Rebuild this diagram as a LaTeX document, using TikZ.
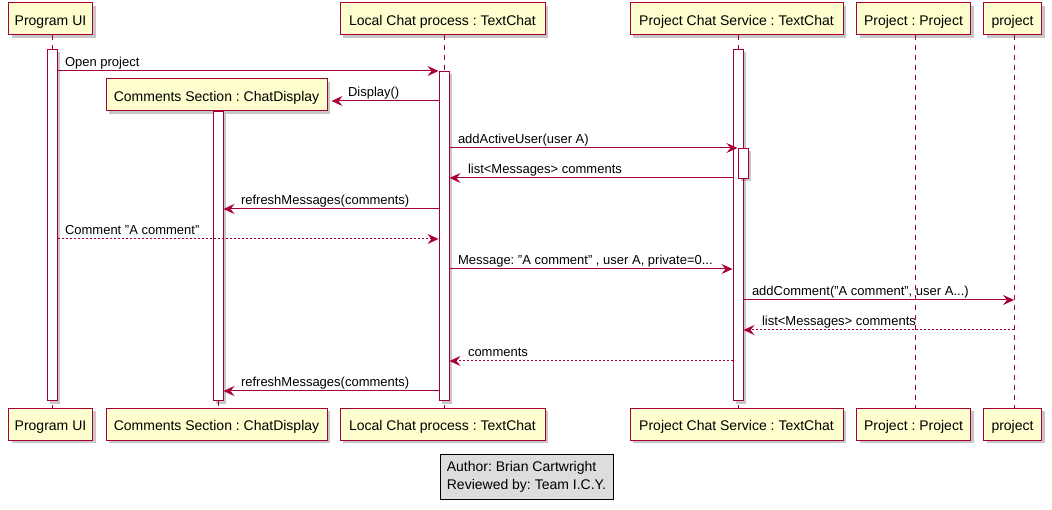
\documentclass[tikz,border=0pt]{standalone}
\usepackage{fontspec}
\setmainfont{Liberation Sans}
\frenchspacing
\usetikzlibrary{arrows.meta,positioning,shadows}
\definecolor{umlred}{HTML}{A80036}
\definecolor{umlyellow}{HTML}{FEFECE}
\definecolor{notegray}{HTML}{DDDDDD}
\newcommand{\partfont}{\fontsize{14pt}{16.5pt}\selectfont}
\newcommand{\notefont}{\fontsize{14pt}{18pt}\selectfont}
\newcommand{\msgfont}{\fontsize{13pt}{15pt}\selectfont}
\tikzset{
  shade/.style={drop shadow={shadow xshift=3pt, shadow yshift=-3pt, fill=black, opacity=.22}},
  part/.style={draw=umlred, fill=umlyellow, line width=1pt, minimum height=32pt, inner sep=0pt, text height=14pt, text depth=1pt, font=\partfont, shade},
  actbar/.style={draw=umlred, fill=white, line width=1pt, minimum width=10pt, inner sep=0pt, anchor=north, shade},
  life/.style={draw=umlred, line width=1pt, dash pattern=on 5pt off 5pt},
  msg/.style={draw=umlred, line width=1pt, -{Stealth[length=11pt, width=10pt, inset=4pt]}},
  ret/.style={msg, dash pattern=on 2pt off 2pt},
  lbl/.style={font=\msgfont, anchor=base west, inner sep=0pt, text=black, yshift=4pt},
  note/.style={draw=black, fill=notegray, line width=1pt, font=\notefont, align=left, minimum width=173pt, minimum height=45pt, inner sep=0pt},
}
\begin{document}
\begin{tikzpicture}[x=1pt, y=-1pt]
  \useasboundingbox (0,0) rectangle (1052,510);
  % participants, top row
  \node[part, minimum width=84pt] (ui) at (50.5,19) {Program UI};
  \node[part, minimum width=221pt] (cs) at (216.5,95) {Comments Section : ChatDisplay};
  \node[part, minimum width=205pt] (lc) at (442.5,19) {Local Chat process : TextChat};
  \node[part, minimum width=213pt] (pcs) at (736.5,19) {Project Chat Service : TextChat};
  \node[part, minimum width=114pt] (pj) at (913.5,19) {Project : Project};
  \node[part, minimum width=58pt] (prj) at (1012.5,19) {project};
  % participants, bottom row
  \node[part, minimum width=84pt] (uiB) at (50.5,424) {Program UI};
  \node[part, minimum width=221pt] (csB) at (216.5,424) {Comments Section : ChatDisplay};
  \node[part, minimum width=205pt] (lcB) at (442.5,424) {Local Chat process : TextChat};
  \node[part, minimum width=213pt] (pcsB) at (736.5,424) {Project Chat Service : TextChat};
  \node[part, minimum width=114pt] (pjB) at (913.5,424) {Project : Project};
  \node[part, minimum width=58pt] (prjB) at (1012.5,424) {project};
  % lifelines
  \coordinate (prjL) at ([xshift=1.5pt]prj.south);
  \coordinate (csEdge) at ([xshift=4pt]cs.east);
  \draw[life] ([xshift=1.5pt]ui.south) -- ([xshift=1.5pt]uiB.north);
  \draw[life] ([xshift=1.5pt]cs.south) -- ([xshift=1.5pt]csB.north);
  \draw[life] ([xshift=1.5pt]lc.south) -- ([xshift=1.5pt]lcB.north);
  \draw[life] ([xshift=1.5pt]pcs.south) -- ([xshift=1.5pt]pcsB.north);
  \draw[life] ([xshift=1.5pt]pj.south) -- ([xshift=1.5pt]pjB.north);
  \draw[life] (prjL) -- ([xshift=1.5pt]prjB.north);
  % activations
  \node[actbar, minimum height=351pt] (uiAct) at (52,49) {};
  \node[actbar, minimum height=289pt] (csAct) at (218,111) {};
  \node[actbar, minimum height=329pt] (lcAct) at (444,71) {};
  \node[actbar, minimum height=351pt] (pcsAct) at (738,49) {};
  \node[actbar, minimum height=30pt] (pcsAct2) at (743,148) {};
  % messages
  \draw[msg] (uiAct.east |- 0,71) -- (lcAct.west |- 0,71) node[lbl, pos=0, xshift=7pt] {Open project};
  \draw[msg] (lcAct.west |- 0,101) -- (csEdge |- 0,101) node[lbl, pos=1, xshift=16pt] {Display()};
  \draw[msg] (lcAct.east |- 0,148) -- (pcsAct2.west |- 0,148) node[lbl, pos=0, xshift=8pt] {addActiveUser(user A)};
  \draw[msg] (pcsAct.west |- 0,178) -- (lcAct.east |- 0,178) node[lbl, pos=1, xshift=18pt] {list<Messages> comments};
  \draw[msg] (lcAct.west |- 0,209) -- (csAct.east |- 0,209) node[lbl, pos=1, xshift=17pt] {refreshMessages(comments)};
  \draw[ret] (uiAct.east |- 0,239) -- (lcAct.west |- 0,239) node[lbl, pos=0, xshift=7pt] {Comment "A comment"};
  \draw[msg] (lcAct.east |- 0,269) -- (pcsAct.west |- 0,269) node[lbl, pos=0, xshift=8pt] {Message: "A comment" , user A, private=0...};
  \draw[msg] (pcsAct.east |- 0,300) -- (prjL |- 0,300) node[lbl, pos=0, xshift=8pt] {addComment("A comment", user A...)};
  \draw[ret] (prjL |- 0,330) -- (pcsAct.east |- 0,330) node[lbl, pos=1, xshift=18pt] {list<Messages> comments};
  \draw[ret] (pcsAct.west |- 0,361) -- (lcAct.east |- 0,361) node[lbl, pos=1, xshift=18pt] {comments};
  \draw[msg] (lcAct.west |- 0,391) -- (csAct.east |- 0,391) node[lbl, pos=1, xshift=17pt] {refreshMessages(comments)};
  % footer
  \node[note] (author) at (526.5,477) {Author: Brian Cartwright\\Reviewed by: Team I.C.Y.};
\end{tikzpicture}
\end{document}
